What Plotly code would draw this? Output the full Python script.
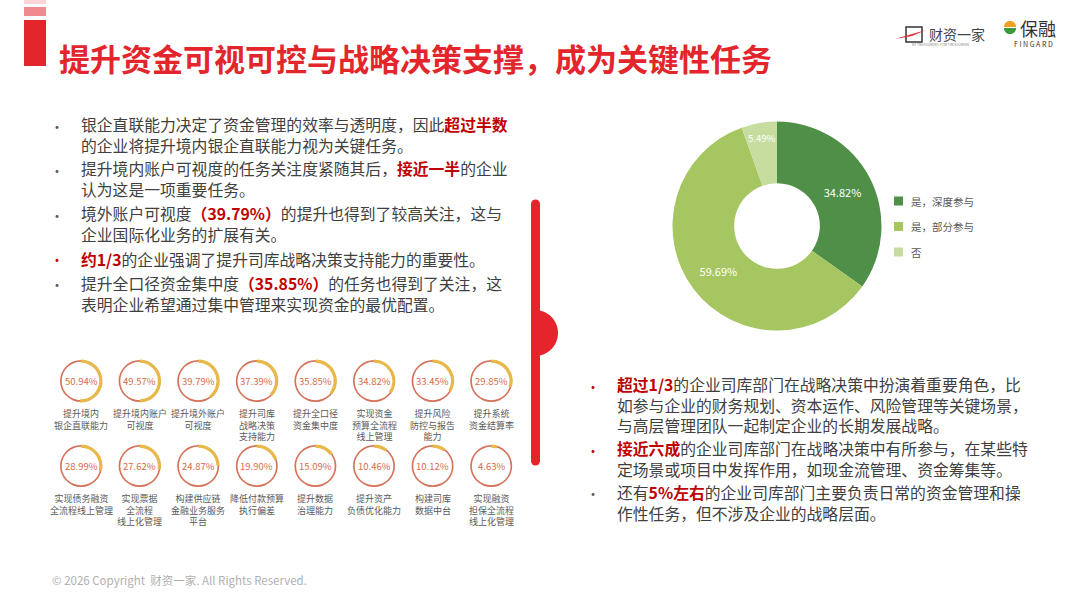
import plotly.graph_objects as go

W, H = 1080, 608

title = "提升资金可视可控与战略决策支撑，成为关键性任务"

task_names = ["提升境内<br>银企直联能力", "提升境内账户<br>可视度", "提升境外账户<br>可视度",
              "提升司库<br>战略决策<br>支持能力", "提升全口径<br>资金集中度", "实现资金<br>预算全流程<br>线上管理",
              "提升风险<br>防控与报告<br>能力", "提升系统<br>资金结算率",
              "实现债务融资<br>全流程线上管理", "实现票据<br>全流程<br>线上化管理", "构建供应链<br>金融业务服务<br>平台",
              "降低付款预算<br>执行偏差", "提升数据<br>治理能力", "提升资产<br>负债优化能力",
              "构建司库<br>数据中台", "实现融资<br>担保全流程<br>线上化管理"]
task_values = [50.94, 49.57, 39.79, 37.39, 35.85, 34.82, 33.45, 29.85,
               28.99, 27.62, 24.87, 19.90, 15.09, 10.46, 10.12, 4.63]

pie_labels = ["是，深度参与", "是，部分参与", "否"]
pie_values = [34.82, 59.69, 5.49]
pie_colors = ["#4f8f48", "#a6c662", "#c6dd9f"]

RED = "#c00000"
def hl(s):
    return "<b><span style='color:%s'>%s</span></b>" % (RED, s)

# paragraphs: lines, y of first line, y of last line, bullet colour
left_paras = [
    (["银企直联能力决定了资金管理的效率与透明度，因此" + hl("超过半数"),
      "的企业将提升境内银企直联能力视为关键任务。"], 126, 144, "#595959"),
    (["提升境内账户可视度的任务关注度紧随其后，" + hl("接近一半") + "的企业",
      "认为这是一项重要任务。"], 170, 188, "#595959"),
    (["境外账户可视度" + hl("（39.79%）") + "的提升也得到了较高关注，这与",
      "企业国际化业务的扩展有关。"], 215, 233, "#595959"),
    ([hl("约1/3") + "的企业强调了提升司库战略决策支持能力的重要性。"], 259, 259, RED),
    (["提升全口径资金集中度" + hl("（35.85%）") + "的任务也得到了关注，这",
      "表明企业希望通过集中管理来实现资金的最优配置。"], 284, 303, "#595959"),
]
right_paras = [
    ([hl("超过1/3") + "的企业司库部门在战略决策中扮演着重要角色，比",
      "如参与企业的财务规划、资本运作、风险管理等关键场景，",
      "与高层管理团队一起制定企业的长期发展战略。"], 386, 423, RED),
    ([hl("接近六成") + "的企业司库部门在战略决策中有所参与，在某些特",
      "定场景或项目中发挥作用，如现金流管理、资金筹集等。"], 450, 467, RED),
    (["还有" + hl("5%左右") + "的企业司库部门主要负责日常的资金管理和操",
      "作性任务，但不涉及企业的战略层面。"], 493, 512, "#595959"),
]

FONT = "Noto Sans CJK SC"
fig = go.Figure()

def px_dom(cx, cy, r):
    return dict(x=[(cx - r) / W, (cx + r) / W], y=[1 - (cy + r) / H, 1 - (cy - r) / H])

# main donut
fig.add_trace(go.Pie(labels=pie_labels, values=pie_values, sort=False, direction="clockwise",
                     rotation=0, hole=0.41, marker=dict(colors=pie_colors),
                     texttemplate="%{value:.2f}%", textposition="inside",
                     insidetextorientation="horizontal",
                     textfont=dict(color="white", size=11, family=FONT),
                     domain=px_dom(777, 226, 104.5), showlegend=False))

ann = []
shapes = []

# small rings
for i, (name, v) in enumerate(zip(task_names, task_values)):
    cx = 81 + 58.6 * (i % 8)
    cy = 381 if i < 8 else 466
    fig.add_trace(go.Pie(values=[1], hole=0.92, sort=False, marker=dict(colors=["#d4735a"]),
                         textinfo="none", hoverinfo="skip", showlegend=False,
                         domain=px_dom(cx, cy, 21)))
    fig.add_trace(go.Pie(values=[v, 100 - v], hole=0.85, sort=False, direction="clockwise", rotation=0,
                         marker=dict(colors=["#e8b84a", "rgba(0,0,0,0)"]),
                         textinfo="none", hoverinfo="skip", showlegend=False,
                         domain=px_dom(cx, cy, 21.5)))
    ann.append(dict(x=cx, y=cy, text="%.2f%%" % v, showarrow=False,
                    font=dict(size=9.5, color="#d9694c", family=FONT)))
    ann.append(dict(x=cx, y=cy + 24, yanchor="top", text=name, showarrow=False,
                    font=dict(size=9, color="#595959", family=FONT)))

# text blocks
for paras, xb, xt in [(left_paras, 57, 79), (right_paras, 593, 615)]:
    for lines, y0, y1, bcol in paras:
        ann.append(dict(x=xt, y=(y0 + y1) / 2, text="<br>".join(lines), xanchor="left", align="left",
                        showarrow=False, font=dict(size=15.8, color="#404040", family=FONT)))
        ann.append(dict(x=xb, y=y0, text="•", showarrow=False,
                        font=dict(size=14, color=bcol, family=FONT)))

# legend
for k, (lab, col) in enumerate(zip(pie_labels, pie_colors)):
    yy = 201 + 25.5 * k
    shapes.append(dict(type="rect", x0=894, x1=903, y0=yy - 4.5, y1=yy + 4.5,
                       fillcolor=col, line_width=0))
    ann.append(dict(x=909, y=yy, text=lab, xanchor="left", showarrow=False,
                    font=dict(size=10.5, color="#595959", family=FONT)))

# title & decorations
ann.append(dict(x=57, y=57, text="<b>" + title + "</b>", xanchor="left", showarrow=False,
                font=dict(size=31, color="#e3262c", family=FONT, weight=900)))
shapes += [
    dict(type="rect", x0=24, x1=46, y0=0, y1=4, fillcolor="#fbd5d7", line_width=0),
    dict(type="rect", x0=24, x1=46, y0=7, y1=16, fillcolor="#f08a8e", line_width=0),
    dict(type="rect", x0=24, x1=46, y0=20, y1=66, fillcolor="#e3262c", line_width=0),
    dict(type="line", x0=535.5, x1=535.5, y0=204, y1=461, line=dict(color="#e5242b", width=9)),
    dict(type="circle", x0=531, x1=540, y0=199.5, y1=208.5, fillcolor="#e5242b", line_width=0),
    dict(type="circle", x0=531, x1=540, y0=456.5, y1=465.5, fillcolor="#e5242b", line_width=0),
    dict(type="path", path="M 535,310 C 547.7,310 558,320.3 558,333 C 558,345.7 547.7,356 535,356 Z",
         fillcolor="#e5242b", line_width=0),
]

# logos
shapes += [
    dict(type="rect", x0=906, x1=922, y0=27, y1=42, line=dict(color="#333333", width=1.5)),
    dict(type="path", path="M 895,39 L 926,30 L 912,36 Z", fillcolor="#e3262c", line_width=0),
    dict(type="path", path="M 1004,27 C 1004,19 1016,19 1016,27 Z", fillcolor="#f0a020", line_width=0),
    dict(type="path", path="M 1004,28 C 1004,36 1016,36 1016,28 Z", fillcolor="#3a9a3a", line_width=0),
]
ann += [
    dict(x=927, y=34, text="财资一家", xanchor="left", showarrow=False,
         font=dict(size=14, color="#444444", family=FONT)),
    dict(x=940, y=44, text="BY TREASURERS, FOR TREASURERS", showarrow=False,
         font=dict(size=3.5, color="#888888", family=FONT)),
    dict(x=1018, y=28, text="保融", xanchor="left", showarrow=False,
         font=dict(size=18, color="#333333", family=FONT)),
    dict(x=1033, y=44, text="F I N G A R D", showarrow=False,
         font=dict(size=7, color="#333333", family=FONT)),
    dict(x=50, y=580, text="© 2026 Copyright  财资一家. All Rights Reserved.", xanchor="left",
         showarrow=False, font=dict(size=11.5, color="#b0b0b0", family=FONT)),
]

fig.update_layout(
    width=W, height=H, margin=dict(l=0, r=0, t=0, b=0),
    paper_bgcolor="white", plot_bgcolor="white",
    xaxis=dict(range=[0, W], visible=False, fixedrange=True),
    yaxis=dict(range=[H, 0], visible=False, fixedrange=True),
    annotations=[dict(a, xref="x", yref="y") for a in ann],
    shapes=[dict(s, xref="x", yref="y", layer="below") for s in shapes],
)
fig.write_html("out.html", config={"displayModeBar": False},
               post_script="document.body.style.margin='0';")
